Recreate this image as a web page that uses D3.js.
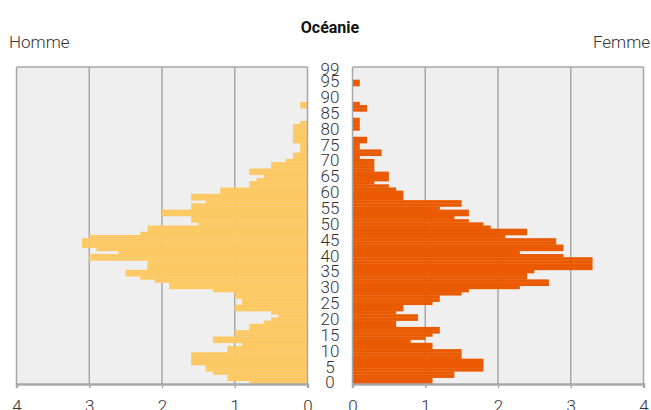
<!DOCTYPE html>
<html>
<head>
<meta charset="utf-8">
<script src="https://cdn.jsdelivr.net/npm/d3@7"></script>
<style>
  body { margin: 0; background: #fff; }
  text { font-family: Roboto, sans-serif; }
</style>
</head>
<body>
<div id="chart"></div>
<script>
// pourcentage de la population par âge (0..99)
const ages = d3.range(0, 100);
const homme = [
  0.8, 1.1, 1.1, 1.3, 1.4, 1.4, 1.6, 1.6, 1.6, 1.6,
  1.1, 1.1, 0.9, 1.3, 1.3, 1.0, 1.0, 0.8, 0.8, 0.6,
  0.5, 0.4, 0.5, 1.0, 1.0, 0.9, 0.9, 1.0, 1.0, 1.3,
  1.9, 1.9, 2.1, 2.3, 2.5, 2.5, 2.2, 2.2, 2.2, 3.0,
  3.0, 2.6, 2.9, 3.1, 3.1, 3.1, 3.0, 2.3, 2.2, 2.2,
  1.5, 1.6, 1.6, 2.0, 2.0, 1.6, 1.6, 1.4, 1.6, 1.6,
  1.2, 1.2, 0.8, 0.8, 0.7, 0.6, 0.8, 0.8, 0.5, 0.5,
  0.3, 0.2, 0.2, 0.1, 0.1, 0.1, 0.2, 0.2, 0.2, 0.2,
  0.2, 0.2, 0.1, 0, 0, 0, 0, 0.1, 0.1, 0,
  0, 0, 0, 0, 0, 0, 0, 0, 0, 0
];
const femme = [
  1.1, 1.1, 1.4, 1.4, 1.8, 1.8, 1.8, 1.8, 1.5, 1.5,
  1.5, 1.1, 1.1, 0.8, 1.0, 1.1, 1.2, 1.2, 0.6, 0.6,
  0.9, 0.9, 0.6, 0.7, 0.7, 1.1, 1.2, 1.2, 1.5, 1.6,
  2.3, 2.7, 2.7, 2.4, 2.4, 2.5, 3.3, 3.3, 3.3, 3.3,
  2.9, 2.3, 2.9, 2.9, 2.8, 2.8, 2.1, 2.4, 2.4, 1.9,
  1.8, 1.6, 1.4, 1.6, 1.6, 1.2, 1.5, 1.5, 0.7, 0.7,
  0.7, 0.6, 0.5, 0.3, 0.5, 0.5, 0.5, 0.3, 0.3, 0.3,
  0.3, 0.1, 0.4, 0.4, 0.1, 0.1, 0.2, 0.2, 0, 0,
  0.1, 0.1, 0.1, 0.1, 0, 0, 0.2, 0.2, 0.1, 0,
  0, 0, 0, 0, 0.1, 0.1, 0, 0, 0, 0
];
const ageTicks = [0, 5, 10, 15, 20, 25, 30, 35, 40, 45, 50, 55, 60, 65, 70, 75, 80, 85, 90, 95, 99];
const xTicks = [0, 1, 2, 3, 4];

const width = 651, height = 410;
const plotTop = 67, plotBottom = 384;
const lineColor = "#a8a8a8";

let svg = d3.select("#chart").append("svg")
    .attr("width", width)
    .attr("height", height);

let y = d3.scaleBand().domain(ages).range([plotBottom, plotTop]).padding(0);

let xL = d3.scaleLinear().domain([0, 4]).range([307.5, 16.5]);
let xR = d3.scaleLinear().domain([0, 4]).range([352.5, 643.5]);

function panel(x, values, color) {
  let g = svg.append("g");
  let [a, b] = d3.extent(x.range());

  g.append("rect")
    .attr("x", a).attr("y", plotTop)
    .attr("width", b - a).attr("height", plotBottom - plotTop)
    .attr("fill", "#efefef");

  // lignes de grille intérieures (sous les barres)
  g.selectAll(".grid").data([1, 2, 3]).enter()
    .append("line")
    .attr("x1", d => x(d)).attr("x2", d => x(d))
    .attr("y1", plotTop).attr("y2", plotBottom)
    .attr("stroke", lineColor).attr("stroke-width", 1.5);

  g.selectAll(".bar").data(ages).enter()
    .append("rect")
    .attr("x", d => Math.min(x(0), x(values[d])))
    .attr("y", d => y(d))
    .attr("width", d => Math.abs(x(values[d]) - x(0)))
    .attr("height", y.bandwidth() + 0.3)
    .attr("fill", color);

  // bordures
  g.selectAll(".edge").data([0, 4]).enter()
    .append("line")
    .attr("x1", d => x(d)).attr("x2", d => x(d))
    .attr("y1", plotTop).attr("y2", plotBottom)
    .attr("stroke", lineColor).attr("stroke-width", 1.5);

  g.append("line")
    .attr("x1", a).attr("x2", b).attr("y1", plotTop).attr("y2", plotTop)
    .attr("stroke", lineColor).attr("stroke-width", 1.5);

  let axis = g.append("g")
    .attr("transform", `translate(0, ${plotBottom})`)
    .call(d3.axisBottom(x).tickValues(xTicks).tickSize(4).tickPadding(12).tickFormat(d3.format("d")));
  axis.select(".domain").attr("stroke", lineColor).attr("stroke-width", 2.5);
  axis.selectAll(".tick line").attr("stroke", lineColor).attr("stroke-width", 1.5);
  axis.selectAll(".tick text")
    .attr("font-size", 17)
    .attr("font-weight", 300)
    .attr("fill", "#333")
    .attr("font-family", "Roboto, sans-serif");
}

panel(xL, homme, "#fdc964");
panel(xR, femme, "#ea5a00");

// étiquettes d'âge au centre
svg.selectAll(".age").data(ageTicks).enter()
  .append("text")
  .attr("x", 330)
  .attr("y", d => y(d) + y.bandwidth() / 2)
  .attr("dy", "0.35em")
  .attr("text-anchor", "middle")
  .attr("font-size", 17)
  .attr("font-weight", 300)
  .attr("fill", "#333")
  .text(d => d);

svg.append("text")
  .attr("x", 330).attr("y", 33)
  .attr("text-anchor", "middle")
  .attr("font-size", 16)
  .attr("font-weight", "bold")
  .attr("fill", "#111")
  .text("Océanie");

svg.append("text")
  .attr("x", 9).attr("y", 48)
  .attr("font-size", 17)
  .attr("font-weight", 300)
  .attr("fill", "#333")
  .text("Homme");

svg.append("text")
  .attr("x", 650).attr("y", 48)
  .attr("text-anchor", "end")
  .attr("font-size", 17)
  .attr("font-weight", 300)
  .attr("fill", "#333")
  .text("Femme");
</script>
</body>
</html>
